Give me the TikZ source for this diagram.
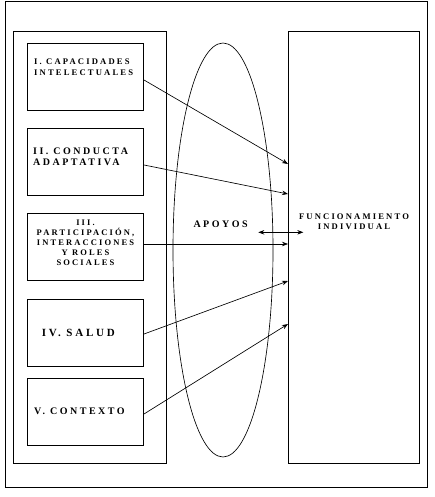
\documentclass[tikz,border=0pt]{standalone}
\usepackage{fontspec}
\setmainfont{Liberation Serif}[LetterSpace=25]
\usetikzlibrary{arrows.meta,shapes.geometric}
\begin{document}
\begin{tikzpicture}[x=1pt,y=-1pt,
  frame/.style={draw,line width=1pt,inner sep=0pt,anchor=north west},
  lbl/.style={inner sep=0pt,font=\bfseries},
  arr/.style={line width=0.65pt,-{Stealth[length=6pt,width=4.5pt]}},
  dbl/.style={line width=0.65pt,{Stealth[length=6pt,width=4.5pt]}-{Stealth[length=6pt,width=4.5pt]}}]
\useasboundingbox (0,0) rectangle (435,497);
\node[frame,minimum width=422pt,minimum height=485.5pt] (outer) at (5,1.5) {};
\node[frame,minimum width=153pt,minimum height=432.5pt] (left) at (12.5,30.7) {};
\node[frame,minimum width=131pt,minimum height=432.5pt] (fi) at (288,30.7) {};
\node[frame,minimum width=116pt,minimum height=67pt] (b1) at (27,43) {};
\node[frame,minimum width=116pt,minimum height=67pt] (b2) at (27,128) {};
\node[frame,minimum width=116pt,minimum height=67pt] (b3) at (27,213) {};
\node[frame,minimum width=116pt,minimum height=67pt] (b4) at (27,299) {};
\node[frame,minimum width=116pt,minimum height=67pt] (b5) at (27,378) {};
\node[draw,ellipse,line width=0.65pt,inner sep=0pt,minimum width=100pt,minimum height=414pt] (apo) at (223,250) {};
% texts
\node[lbl,anchor=north west,align=left,font=\bfseries\fontsize{8.6}{11}\selectfont] (t1) at (34,58.3) {I. CAPACIDADES\\INTELECTUALES};
\node[lbl,anchor=north west,align=left,font=\bfseries\fontsize{10}{10.7}\selectfont] (t2) at (33,147.7) {II. CONDUCTA\\ADAPTATIVA};
\node[lbl,anchor=north,align=center,font=\bfseries\fontsize{8.5}{10.2}\selectfont] (t3) at (85.5,219.3) {III.\\PARTICIPACIÓN,\\INTERACCIONES\\Y ROLES\\SOCIALES};
\node[lbl,anchor=base west,font=\bfseries\fontsize{11}{12}\selectfont] (t4) at (41.7,336.7) {IV. SALUD};
\node[lbl,anchor=base west,font=\bfseries\fontsize{10}{12}\selectfont] (t5) at (34,414) {V. CONTEXTO};
\node[lbl,anchor=base west,font=\bfseries\fontsize{10}{12}\selectfont] (ta) at (193.3,227.3) {APOYOS};
\node[lbl,anchor=north,align=center,font=\bfseries\fontsize{8.6}{10.7}\selectfont] (tf) at (354,213.3) {FUNCIONAMIENTO\\INDIVIDUAL};
% connectors
\draw[arr] (b1.east |- 0,80) -- (fi.west |- 0,164);
\draw[arr] (b2.east |- 0,165) -- (fi.west |- 0,194);
\draw[arr] (b3.east |- 0,244) -- (fi.west |- 0,244);
\draw[arr] (b4.east |- 0,334) -- (fi.west |- 0,281);
\draw[arr] (b5.east |- 0,414) -- (fi.west |- 0,324);
\coordinate (d1) at (258.3,232.3);
\coordinate (d2) at (303.3,232.3);
\draw[dbl] (d1) -- (d2);
\end{tikzpicture}
\end{document}
